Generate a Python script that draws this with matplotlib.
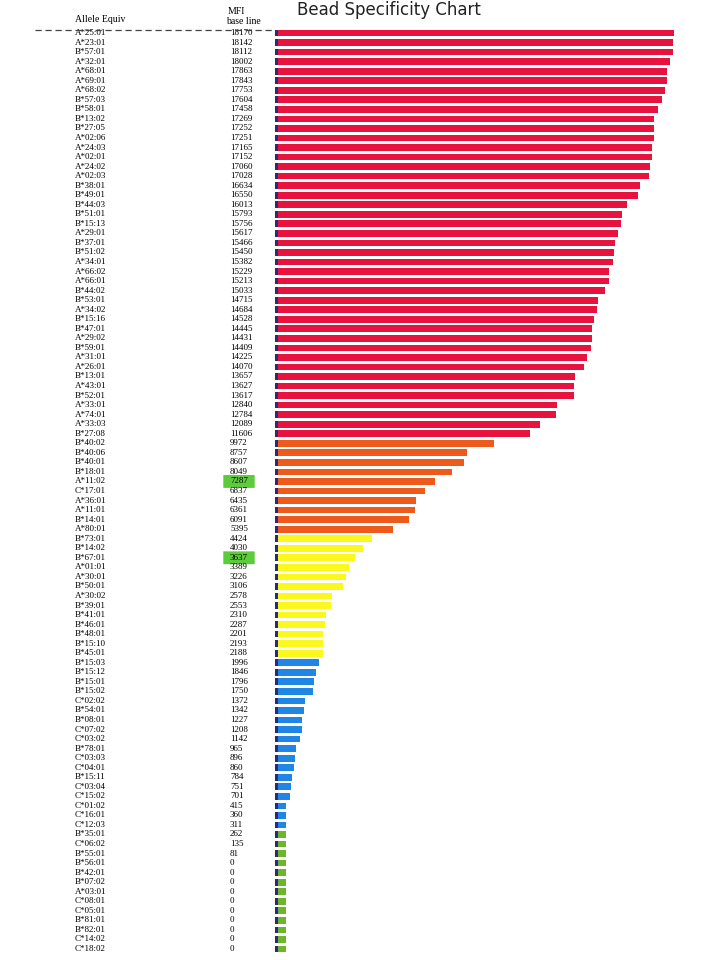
import matplotlib.pyplot as plt
import matplotlib.transforms as mtransforms
from matplotlib.patches import FancyBboxPatch

alleles = ["A*25:01", "A*23:01", "B*57:01", "A*32:01", "A*68:01", "A*69:01", "A*68:02", "B*57:03",
           "B*58:01", "B*13:02", "B*27:05", "A*02:06", "A*24:03", "A*02:01", "A*24:02", "A*02:03",
           "B*38:01", "B*49:01", "B*44:03", "B*51:01", "B*15:13", "A*29:01", "B*37:01", "B*51:02",
           "A*34:01", "A*66:02", "A*66:01", "B*44:02", "B*53:01", "A*34:02", "B*15:16", "B*47:01",
           "A*29:02", "B*59:01", "A*31:01", "A*26:01", "B*13:01", "A*43:01", "B*52:01", "A*33:01",
           "A*74:01", "A*33:03", "B*27:08", "B*40:02", "B*40:06", "B*40:01", "B*18:01", "A*11:02",
           "C*17:01", "A*36:01", "A*11:01", "B*14:01", "A*80:01", "B*73:01", "B*14:02", "B*67:01",
           "A*01:01", "A*30:01", "B*50:01", "A*30:02", "B*39:01", "B*41:01", "B*46:01", "B*48:01",
           "B*15:10", "B*45:01", "B*15:03", "B*15:12", "B*15:01", "B*15:02", "C*02:02", "B*54:01",
           "B*08:01", "C*07:02", "C*03:02", "B*78:01", "C*03:03", "C*04:01", "B*15:11", "C*03:04",
           "C*15:02", "C*01:02", "C*16:01", "C*12:03", "B*35:01", "C*06:02", "B*55:01", "B*56:01",
           "B*42:01", "B*07:02", "A*03:01", "C*08:01", "C*05:01", "B*81:01", "B*82:01", "C*14:02",
           "C*18:02"]
mfi = [18170, 18142, 18112, 18002, 17863, 17843, 17753, 17604, 17458, 17269, 17252, 17251, 17165,
       17152, 17060, 17028, 16634, 16550, 16013, 15793, 15756, 15617, 15466, 15450, 15382, 15229,
       15213, 15033, 14715, 14684, 14528, 14445, 14431, 14409, 14225, 14070, 13657, 13627, 13617,
       12840, 12784, 12089, 11606, 9972, 8757, 8607, 8049, 7287, 6837, 6435, 6361, 6091, 5395,
       4424, 4030, 3637, 3389, 3226, 3106, 2578, 2553, 2310, 2287, 2201, 2193, 2188, 1996, 1846,
       1796, 1750, 1372, 1342, 1227, 1208, 1142, 965, 896, 860, 784, 751, 701, 415, 360, 311, 262,
       135, 81, 0, 0, 0, 0, 0, 0, 0, 0, 0, 0]
highlighted = ["7287", "3637"]


def bar_color(v):
    if v >= 10000:
        return "#e8123e"
    if v >= 5000:
        return "#ee5a1c"
    if v >= 2000:
        return "#fbf81e"
    if v >= 300:
        return "#1f86e6"
    return "#6cb52c"


n = len(alleles)
fig = plt.figure(figsize=(7.2, 9.6), dpi=100)
step = (949 - 33) / (n - 1)
top = 1 - (33 - step / 2) / 960
height = n * step / 960
ax = fig.add_axes([275 / 720, top - height, (690 - 275) / 720, height])

widths = [max(v, 500) for v in mfi]
ax.barh(range(n), widths, height=0.7, color=[bar_color(v) for v in mfi])
ax.barh(range(n), [120] * n, height=0.7, color="#2a2a7a")
ax.set_xlim(0, 18900)
ax.set_ylim(n - 0.5, -0.5)
ax.axis("off")

tr = mtransforms.blended_transform_factory(fig.transFigure, ax.transData)
for i, (a, v) in enumerate(zip(alleles, mfi)):
    ax.text(75 / 720, i, a, transform=tr, fontsize=6.5, family="Liberation Serif", va="center")
    ax.text(230 / 720, i, str(v), transform=tr, fontsize=6.5, family="Liberation Serif", va="center")
    if str(v) in highlighted:
        ax.add_patch(FancyBboxPatch((224 / 720, i - 0.6), 30 / 720, 1.2, transform=tr,
                                    boxstyle="round,pad=0,rounding_size=0.005",
                                    color="#5ccc3a", zorder=0, clip_on=False))

fig.text(75 / 720, 1 - 20 / 960, "Allele Equiv", fontsize=7, family="Liberation Serif", va="center")
fig.text(228 / 720, 1 - 11 / 960, "MFI", fontsize=7, family="Liberation Serif", va="center")
fig.text(226 / 720, 1 - 21 / 960, "base line", fontsize=7, family="Liberation Serif", va="center")
fig.text(297 / 720, 1 - 10 / 960, "Bead Specificity Chart", fontsize=12, color="#222222", va="center")
fig.add_artist(plt.Line2D([35 / 720, 275 / 720], [1 - 30 / 960] * 2, transform=fig.transFigure,
                          color="#444444", lw=0.9, ls=(0, (5, 3))))

fig.savefig("out.png", dpi=100, facecolor="white")
